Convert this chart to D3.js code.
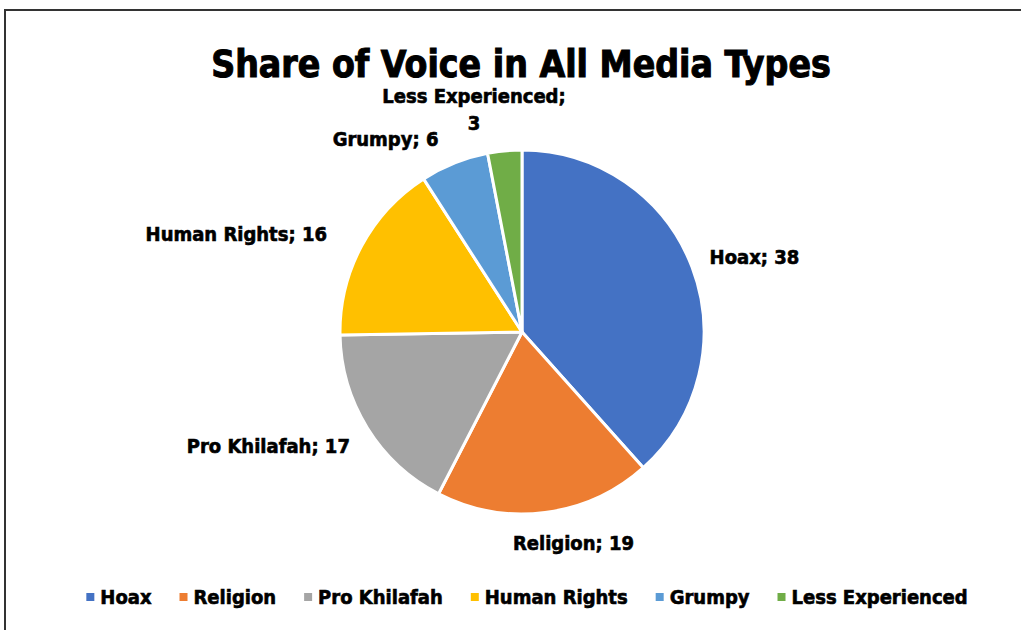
<!DOCTYPE html>
<html>
<head>
<meta charset="utf-8">
<script src="https://cdn.jsdelivr.net/npm/d3@7"></script>
<style>
  html, body { margin: 0; padding: 0; background: #fff; }
  svg { display: block; }
  text { font-family: "Liberation Sans Narrow", "DejaVu Sans Condensed", "Liberation Sans", sans-serif; font-weight: bold; fill: #000; stroke: #000; stroke-width: 0.6px; }
</style>
</head>
<body>
<svg id="chart" width="1021" height="630"></svg>
<script>
// data
const categories = ['Hoax', 'Religion', 'Pro Khilafah', 'Human Rights', 'Grumpy', 'Less Experienced'];
const values = [38, 19, 17, 16, 6, 3];
const colors = ['#4472C4', '#ED7D31', '#A5A5A5', '#FFC000', '#5B9BD5', '#70AD47'];
const title = 'Share of Voice in All Media Types';

// label nudges (Excel moved some labels off the default spot)
const labelNudge = [[0, 2], [18, -3], [-11, 0], [-26, 4], [-41, 8], [-19, 6]];

const W = 1021, H = 630;
const cx = 522, cy = 332, R = 182;

const svg = d3.select('#chart');

// chart border
svg.append('rect')
    .attr('x', 5).attr('y', 10)
    .attr('width', W + 20).attr('height', H + 20)
    .attr('fill', 'none')
    .attr('stroke', '#333')
    .attr('stroke-width', 2);

// title
svg.append('text')
    .attr('x', 521).attr('y', 77)
    .attr('text-anchor', 'middle')
    .attr('font-size', 37)
    .style('stroke-width', '1px')
    .text(title);

const rows = categories.map((c, i) => ({ name: c, value: values[i], color: colors[i] }));

const pie = d3.pie().sort(null).value(d => d.value);
const arc = d3.arc().innerRadius(0).outerRadius(R);
const arcs = pie(rows);

const g = svg.append('g').attr('transform', `translate(${cx},${cy})`);

g.selectAll('path')
    .data(arcs)
    .enter()
    .append('path')
    .attr('d', arc)
    .attr('fill', d => d.data.color)
    .attr('stroke', '#fff')
    .attr('stroke-width', 3)
    .attr('stroke-linejoin', 'round');

// outside-end labels
const labelR = R + 22;
const labels = g.selectAll('.lbl')
    .data(arcs)
    .enter()
    .append('text')
    .attr('class', 'lbl')
    .attr('font-size', 20);

labels.each(function(d, i) {
    const a = (d.startAngle + d.endAngle) / 2;
    const s = Math.sin(a), c = -Math.cos(a);
    const el = d3.select(this);
    const txt = d.data.name + '; ' + d.data.value;
    el.text(txt);
    const w = this.getComputedTextLength();
    let x = s * labelR + s * w / 2 + labelNudge[i][0];
    let y = c * labelR + c * 12 + 7 + labelNudge[i][1];
    el.attr('text-anchor', 'middle').attr('x', x).attr('y', y);
    // very long labels wrap onto two lines
    if (w > 150 && Math.abs(s) < 0.3) {
        el.text(null);
        el.append('tspan').attr('x', x).attr('dy', 0).text(d.data.name + ';');
        el.append('tspan').attr('x', x).attr('dy', 27).text(d.data.value);
        el.attr('y', y - 27);
    }
});

// legend
const legend = svg.append('g');
let lx = 0;
const items = legend.selectAll('g')
    .data(rows)
    .enter()
    .append('g');
items.append('rect')
    .attr('width', 8).attr('height', 8)
    .attr('y', -11)
    .attr('fill', d => d.color);
items.append('text')
    .attr('x', 14)
    .attr('font-size', 20)
    .text(d => d.name);
items.each(function() {
    d3.select(this).attr('transform', `translate(${lx},0)`);
    const tw = d3.select(this).select('text').node().getComputedTextLength();
    lx += 14 + tw + 28;
});
lx -= 28;
legend.attr('transform', `translate(${527 - lx / 2},604)`);
</script>
</body>
</html>
